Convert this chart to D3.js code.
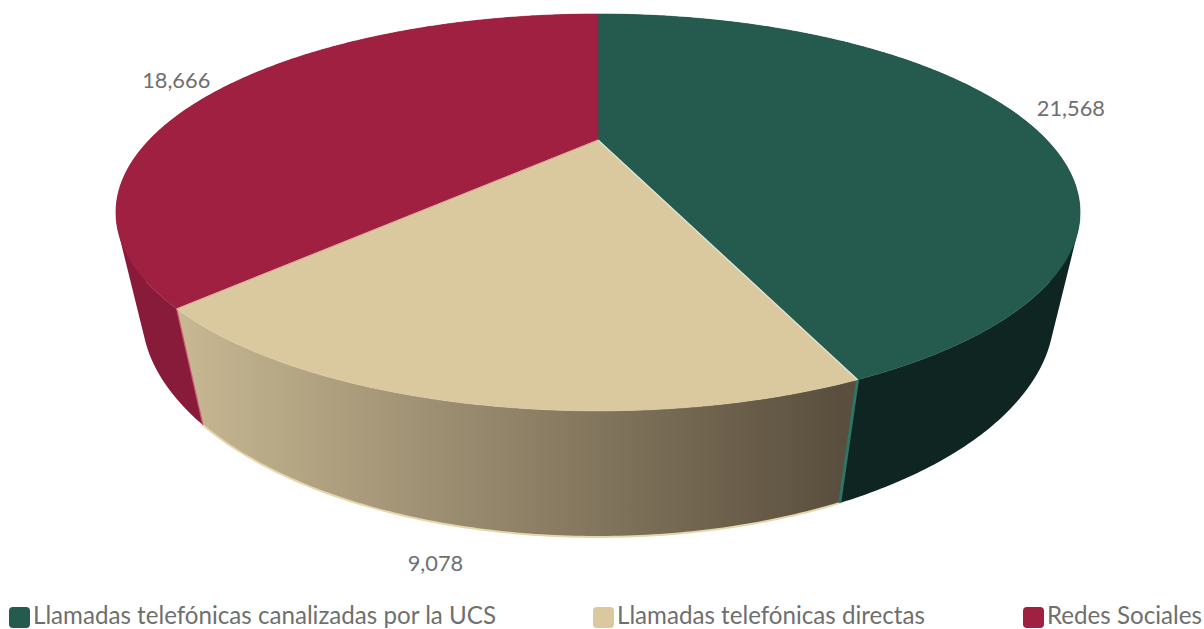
<!DOCTYPE html>
<html><head><meta charset="utf-8">
<script src="https://cdn.jsdelivr.net/npm/d3@7"></script>
<style>html,body{margin:0;padding:0;background:#fff;overflow:hidden}svg{display:block}text{font-family:Lato,"Noto Sans",sans-serif;fill:#6f6f6f}</style>
</head><body><svg id="c" width="1204" height="629"></svg>
<script>
const categories = ["Llamadas telefónicas canalizadas por la UCS","Llamadas telefónicas directas","Redes Sociales"];
const values = [21568,9078,18666];
const colors = ["#245b4e","#dac99f","#9f2040"];
const sideColors = ["#0f2521",null,"#871b39"];
const edgeColors = ["#2f7466","#e6d6ae","#c9566f"];
const legendX = [9,593,1023];

const svg = d3.select("#c");
// perspective projection of the disc
const CX=598, AX=448.8, Y0=140, BY=120.9, K=0.365, DZ=106.4, MZ=0.049;
function proj(angle, r, z){
  const X=Math.sin(angle)*r, Y=Math.cos(angle)*r;
  const w=1+K*Y+MZ*z;
  return [CX+AX*X/w,(Y0-BY*Y+DZ*z)/w];
}
const arcs = d3.pie().sort(null)(values);
const defs = svg.append("defs");
const grad = defs.append("linearGradient").attr("id","creamSide").attr("gradientUnits","userSpaceOnUse")
  .attr("x1",proj(arcs[1].endAngle,1,0)[0]).attr("x2",proj(arcs[1].startAngle,1,1)[0]).attr("y1",0).attr("y2",0);
grad.append("stop").attr("offset",0).attr("stop-color","#c8b893");
grad.append("stop").attr("offset",1).attr("stop-color","#5a4f3e");

const STEP=0.01;
function angles(a0,a1){const n=Math.max(2,Math.ceil((a1-a0)/STEP));return d3.range(n+1).map(i=>a0+(a1-a0)*i/n);}
const line=d3.line();
// side walls: one path per slice, every quad wound the same way
arcs.forEach((d,i)=>{
  const as=angles(d.startAngle,d.endAngle);
  const fill=sideColors[i]||"url(#creamSide)";
  const dd=d3.pairs(as).map(([a,b])=>{
    let q=[proj(a,1,0),proj(b,1,0),proj(b,1,1),proj(a,1,1)];
    if(d3.polygonArea(q)<0) q=q.reverse();
    return line(q)+"Z";
  }).join("");
  svg.append("path").attr("d",dd).attr("fill",fill).attr("fill-rule","nonzero");
});
// lower rim of the cream wall
svg.append("path").attr("d",line(angles(arcs[1].startAngle,arcs[1].endAngle).map(a=>proj(a,1,1))))
  .attr("fill","none").attr("stroke",edgeColors[1]).attr("stroke-width",2);
// vertical seams
svg.append("path").attr("d",line([proj(arcs[0].endAngle,1,0),proj(arcs[0].endAngle,1,1)]))
  .attr("stroke",edgeColors[0]).attr("stroke-width",3);
svg.append("path").attr("d",line([proj(arcs[1].endAngle,1,0),proj(arcs[1].endAngle,1,1)]))
  .attr("stroke",edgeColors[2]).attr("stroke-width",1.2);
// top faces
arcs.forEach((d,i)=>{
  const pts=[proj(0,0,0),...angles(d.startAngle,d.endAngle).map(a=>proj(a,1,0))];
  svg.append("path").attr("d",line(pts)+"Z").attr("fill",colors[i]).attr("stroke",colors[i]).attr("stroke-width",0.6);
});
// radial seams
svg.append("path").attr("d",line([proj(0,0,0),proj(arcs[0].endAngle,1,0)]))
  .attr("stroke","#dfe3d2").attr("stroke-width",1.4);
svg.append("path").attr("d",line([proj(0,0,0),proj(arcs[1].endAngle,1,0)]))
  .attr("stroke","#ecd9b6").attr("stroke-width",0.8);

// value labels
const fmt=d3.format(",");
const labelSpec=[{z:0,dx:28,dy:0,anchor:"start"},{z:1,dx:-43,dy:34,anchor:"middle"},{z:0,dx:-21,dy:-3,anchor:"end"}];
arcs.forEach((d,i)=>{
  const s=labelSpec[i], p=proj((d.startAngle+d.endAngle)/2,1,s.z);
  svg.append("text").attr("x",p[0]+s.dx).attr("y",p[1]+s.dy).attr("dy","0.35em")
    .attr("text-anchor",s.anchor).attr("font-size",21.8).text(fmt(values[i]));
});
// legend
categories.forEach((c,i)=>{
  svg.append("rect").attr("x",legendX[i]).attr("y",607).attr("width",21).attr("height",21).attr("rx",4).attr("fill",colors[i]);
  svg.append("text").attr("x",legendX[i]+24).attr("y",624).attr("font-size",24.15).text(c);
});
</script></body></html>
